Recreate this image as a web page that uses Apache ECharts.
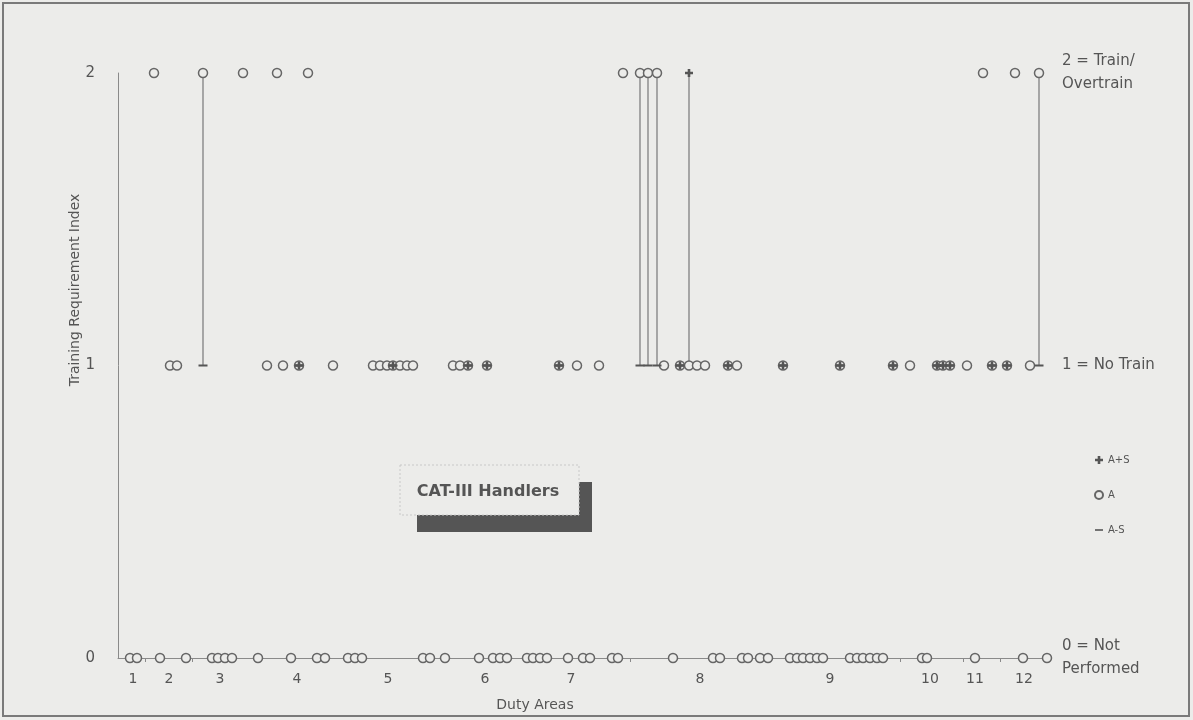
<!DOCTYPE html>
<html>
<head>
<meta charset="utf-8">
<script src="https://cdn.jsdelivr.net/npm/echarts@6/dist/echarts.min.js"></script>
<style>
html,body{margin:0;padding:0;background:#ececea;}
#chart{width:1193px;height:720px;}
</style>
</head>
<body>
<div id="chart"></div>
<script>
// ---- data (x = position along the task axis, y = training requirement index) ----
const taskAxisMax = 932;
const dutyLabels = ['1','2','3','4','5','6','7','8','9','10','11','12'];
const dutyPositions = [15,51,102,179,270,367,453,582,712,812,857,906];
const dutyBoundaries = [27,74,512,782,845,882];
const yTickLabels = ['0','1','2'];
const ratingLabels = ['0 = Not\nPerformed','1 = No Train','2 = Train/\nOvertrain'];

// A (mean rating) at each level
const aTrain = [36,85,125,159,190,505,522,530,539,865,897,921];            // A = 2
const aNoTrain = [52,59,149,165,181,215,255,262,269,275,282,289,295,335,342,350,369,
  441,459,481,546,562,571,579,587,610,619,665,722,775,792,819,825,832,849,874,889,912]; // A = 1
const aNotPerformed = [12,19,42,68,94,100,107,114,140,173,199,207,230,237,244,305,312,327,
  361,375,382,389,409,415,422,429,450,465,472,494,500,555,595,602,624,630,642,650,
  672,679,685,692,699,705,732,739,745,752,759,765,804,809,857,905,929];   // A = 0

// tasks where A+S and A-S coincide at 1
const bothBoundsNoTrain = [181,275,350,369,441,562,610,665,722,775,819,825,832,874,889];
// A+S = 2 where A = 1
const aPlusSTrain = [571];
// A-S = 1 where A = 2
const aMinusSNoTrain = [85,522,530,539,921];
// high-low spans: [task, A-S, A+S]
const spans = [[85,1,2],[522,1,2],[530,1,2],[539,1,2],[571,1,2],[921,1,2]];

// ---- build series data ----
const aData = [].concat(
  aTrain.map(x => [x, 2]),
  aNoTrain.map(x => [x, 1]),
  aNotPerformed.map(x => [x, 0])
);
const plusData = [].concat(bothBoundsNoTrain.map(x => [x, 1]), aPlusSTrain.map(x => [x, 2]));
const minusData = [].concat(bothBoundsNoTrain.map(x => [x, 1]), aMinusSNoTrain.map(x => [x, 1]));

const ink = '#666666';
const bg = '#ececea';
const font = "'DejaVu Sans', 'Liberation Sans', Arial, sans-serif";
const plusPath = 'path://M2.7,0H5.3V2.7H8V5.3H5.3V8H2.7V5.3H0V2.7H2.7Z';
const minusPath = 'path://M0,0H9V1.8H0Z';

const chart = echarts.init(document.getElementById('chart'));
chart.setOption({
  backgroundColor: bg,
  animation: false,
  textStyle: {fontFamily: font},
  grid: {left: 118, right: 143, top: 73, bottom: 62, containLabel: false},
  xAxis: {
    type: 'value', min: 0, max: taskAxisMax,
    splitLine: {show: false},
    axisLine: {show: true, lineStyle: {color: '#8a8a8a', width: 1}},
    axisTick: {show: true, customValues: dutyBoundaries, length: 4, lineStyle: {color: '#8a8a8a'}},
    axisLabel: {
      customValues: dutyPositions,
      formatter: v => dutyLabels[dutyPositions.indexOf(v)] || '',
      color: '#555', fontSize: 14, margin: 14, fontFamily: font
    }
  },
  yAxis: [{
    type: 'value', min: 0, max: 2, interval: 1,
    splitLine: {show: false},
    axisLine: {show: true, lineStyle: {color: '#8a8a8a', width: 1}},
    axisTick: {show: false},
    axisLabel: {formatter: v => yTickLabels[v], color: '#555', fontSize: 15, margin: 23, fontFamily: font}
  }, {
    type: 'value', min: 0, max: 2, interval: 1, position: 'right',
    splitLine: {show: false},
    axisLine: {show: false}, axisTick: {show: false},
    axisLabel: {formatter: v => ratingLabels[v], color: '#555', fontSize: 15, margin: 12,
      lineHeight: 23, align: 'left', fontFamily: font}
  }],
  legend: {
    orient: 'vertical', left: 1089, top: 450, itemGap: 25,
    itemWidth: 8, itemHeight: 8,
    textStyle: {color: '#555', fontSize: 10, fontFamily: font},
    data: [
      {name: 'A+S', icon: plusPath},
      {name: 'A'},
      {name: 'A-S', icon: 'path://M0,4H9V5.8H0Z'}
    ]
  },
  series: [
    {
      type: 'custom', name: 'span', z: 1, silent: true,
      data: spans,
      encode: {x: 0, y: [1, 2]},
      renderItem: (params, api) => {
        const lo = api.coord([api.value(0), api.value(1)]);
        const hi = api.coord([api.value(0), api.value(2)]);
        return {type: 'line', shape: {x1: lo[0], y1: lo[1], x2: hi[0], y2: hi[1]},
          style: {stroke: '#777', lineWidth: 1.2}};
      }
    },
    {
      type: 'scatter', name: 'A', z: 2, data: aData,
      symbol: 'circle', symbolSize: 9,
      itemStyle: {color: bg, borderColor: ink, borderWidth: 1.5, opacity: 1}
    },
    {
      type: 'scatter', name: 'A+S', z: 3, data: plusData,
      symbol: plusPath, symbolSize: 8,
      itemStyle: {color: '#555', opacity: 1}
    },
    {
      type: 'scatter', name: 'A-S', z: 3, data: minusData,
      symbol: minusPath, symbolSize: [9, 2], symbolKeepAspect: false,
      itemStyle: {color: '#555', opacity: 1}
    }
  ],
  graphic: [
    {type: 'rect', shape: {x: 3, y: 3, width: 1186, height: 713}, style: {fill: 'none', stroke: '#7a7a7a', lineWidth: 2}, z: 0},
    {type: 'text', x: 75, y: 290, rotation: Math.PI / 2,
      style: {text: 'Training Requirement Index', font: "14px " + font, fill: '#555', align: 'center', verticalAlign: 'middle'}},
    {type: 'text', x: 535, y: 705,
      style: {text: 'Duty Areas', font: "14px " + font, fill: '#555', align: 'center', verticalAlign: 'middle'}},
    {type: 'rect', shape: {x: 417, y: 482, width: 175, height: 50}, style: {fill: '#555'}, z: 10},
    {type: 'rect', shape: {x: 400, y: 465, width: 179, height: 50}, style: {fill: bg, stroke: '#c8c8c8', lineWidth: 1, lineDash: [2, 2]}, z: 11},
    {type: 'text', x: 488, y: 492, z: 12,
      style: {text: 'CAT-III Handlers', font: "bold 16px " + font, fill: '#555', align: 'center', verticalAlign: 'middle'}}
  ]
});
</script>
</body>
</html>
